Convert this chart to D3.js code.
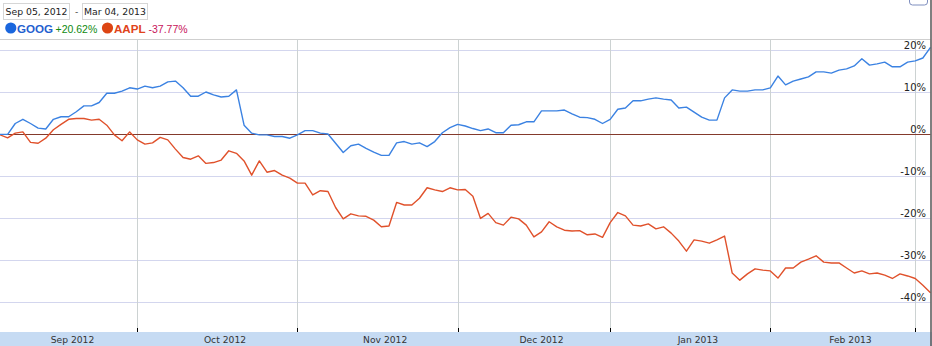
<!DOCTYPE html>
<html>
<head>
<meta charset="utf-8">
<script src="https://cdn.jsdelivr.net/npm/d3@7/dist/d3.min.js"></script>
<style>
  html, body { margin: 0; padding: 0; background: #fff; }
  svg { display: block; }
</style>
</head>
<body>
<svg id="chart" width="932" height="346"></svg>
<script>
// ---- data ----
const startDate = "Sep 05, 2012";
const endDate = "Mar 04, 2013";
const seriesNames = ["GOOG", "AAPL"];
const seriesChange = ["+20.62%", "-37.77%"];

// percent change, one value per trading day
const goog = [
  -0.1, -0.1, 2.5, 3.5, 2.5, 1.4, 1.2, 3.5, 4.1, 4.1,
  5.3, 6.7, 6.7, 7.5, 9.7, 9.7, 10.2, 11.0, 10.7, 11.4,
  11.0, 11.4, 12.4, 12.6, 11.0, 9.0, 9.0, 10.0, 9.3, 8.8,
  9.0, 10.5, 2.1, 0.2, -0.2, -0.2, -0.6, -0.6, -1.0, -0.2,
  0.8, 0.8, 0.2, 0.0, -2.2, -4.4, -2.8, -2.4, -3.4, -4.3,
  -5.1, -5.1, -2.1, -1.8, -2.4, -2.1, -3.0, -1.8, 0.3, 1.5,
  2.3, 1.9, 1.3, 0.8, 1.2, 0.3, 0.3, 2.1, 2.2, 2.9,
  2.9, 5.5, 5.5, 5.5, 5.7, 4.8, 4.0, 3.9, 3.5, 2.5,
  3.5, 5.9, 6.2, 7.9, 7.9, 8.3, 8.6, 8.3, 8.1, 6.2,
  6.4, 5.2, 4.0, 3.3, 3.3, 8.6, 10.5, 10.2, 10.2, 10.5,
  10.5, 11.0, 13.8, 11.7, 12.6, 13.1, 13.6, 14.8, 14.8, 14.5,
  15.2, 15.5, 16.2, 17.9, 16.4, 16.7, 17.1, 16.0, 16.0, 17.1,
  17.4, 18.1, 20.62
];
const aapl = [
  -0.2, -0.9, 0.2, 0.5, -2.0, -2.2, -1.0, 1.0, 2.3, 3.5,
  3.7, 3.7, 3.3, 3.5, 2.1, -0.2, -1.6, 0.5, -1.4, -2.4,
  -2.1, -0.8, -1.4, -3.6, -5.6, -6.0, -5.2, -7.0, -6.8, -6.2,
  -4.0, -4.6, -6.4, -9.8, -6.4, -9.1, -8.7, -9.8, -10.5, -11.7,
  -11.7, -14.5, -13.5, -13.7, -17.5, -20.2, -19.0, -19.5, -19.6, -20.5,
  -22.1, -21.9, -16.3, -16.9, -16.9, -15.3, -12.8, -13.3, -13.7, -12.8,
  -13.3, -13.2, -14.8, -20.1, -18.9, -21.1, -21.7, -19.8, -20.2, -21.7,
  -24.5, -23.3, -20.9, -22.1, -22.9, -23.1, -23.0, -24.0, -23.8, -24.6,
  -21.1, -18.7, -19.5, -21.7, -21.9, -21.4, -22.6, -22.1, -23.6, -25.5,
  -27.9, -25.2, -25.5, -26.0, -25.2, -24.3, -33.1, -34.8, -33.3, -32.1,
  -32.4, -32.6, -34.3, -31.9, -31.9, -30.5, -29.8, -29.0, -30.5, -30.7,
  -30.7, -31.9, -33.1, -32.6, -33.3, -33.1, -33.6, -34.4, -33.3, -33.8,
  -34.4, -36.0, -37.77
];

// month axis: labels and trading-day index where each month starts
const monthLabels = ["Sep 2012", "Oct 2012", "Nov 2012", "Dec 2012", "Jan 2013", "Feb 2013"];
const monthStartIdx = [-1, 18, 39, 60, 80, 101, 120];

// y ticks (percent)
const yTicks = [20, 10, 0, -10, -20, -30, -40];

// ---- drawing ----
const svg = d3.select("#chart");
const W = 932, H = 346;
const plotTop = 39, plotBottom = 332, plotRight = 930.5;

const x = d3.scaleLinear().domain([0, goog.length - 1]).range([0, plotRight]);
const y = d3.scaleLinear().domain([-40, 20]).range([302, 50]);

// top separator line
svg.append("line").attr("x1", 0).attr("x2", plotRight).attr("y1", plotTop + 0.5).attr("y2", plotTop + 0.5)
  .attr("stroke", "#cfcfcf").attr("stroke-width", 1);

// horizontal gridlines
svg.append("g").selectAll("line").data(yTicks.filter(d => d !== 0)).join("line")
  .attr("x1", 0).attr("x2", plotRight)
  .attr("y1", d => Math.round(y(d)) + 0.5).attr("y2", d => Math.round(y(d)) + 0.5)
  .attr("stroke", "#d3d6ee").attr("stroke-width", 1);

// vertical gridlines at month starts
const gridIdx = monthStartIdx.slice(1);
svg.append("g").selectAll("line").data(gridIdx).join("line")
  .attr("x1", d => Math.round(x(d)) + 0.5).attr("x2", d => Math.round(x(d)) + 0.5)
  .attr("y1", plotTop).attr("y2", plotBottom - 4)
  .attr("stroke", "#ccd2d2").attr("stroke-width", 1);

// tick marks
svg.append("g").selectAll("line").data(gridIdx).join("line")
  .attr("x1", d => Math.round(x(d)) + 0.5).attr("x2", d => Math.round(x(d)) + 0.5)
  .attr("y1", plotBottom - 4).attr("y2", plotBottom)
  .attr("stroke", "#000").attr("stroke-width", 1);

// bottom band
svg.append("rect").attr("x", 0).attr("y", plotBottom).attr("width", W).attr("height", H - plotBottom)
  .attr("fill", "#c6dbf3");

// month labels
const step = x(1) - x(0);
svg.append("g").selectAll("text").data(monthLabels).join("text")
  .attr("x", (d, i) => x((monthStartIdx[i] + monthStartIdx[i + 1]) / 2) + step)
  .attr("y", 343)
  .attr("text-anchor", "middle")
  .attr("font-family", "DejaVu Sans, Verdana, sans-serif")
  .attr("font-size", 9.2)
  .attr("fill", "#333")
  .text(d => d);

// zero line
svg.append("line").attr("x1", 0).attr("x2", plotRight)
  .attr("y1", Math.round(y(0)) + 0.5).attr("y2", Math.round(y(0)) + 0.5)
  .attr("stroke", "#843a2c").attr("stroke-width", 1.2);

// y labels
svg.append("g").selectAll("text").data(yTicks).join("text")
  .attr("x", 926).attr("y", d => Math.round(y(d)) - 1.5)
  .attr("text-anchor", "end")
  .attr("font-family", "DejaVu Sans, Verdana, sans-serif")
  .attr("font-size", 10)
  .attr("fill", "#222")
  .text(d => d + "%");

// lines
const line = d3.line().x((d, i) => x(i)).y(d => y(d));
svg.append("path").datum(aapl).attr("d", line)
  .attr("fill", "none").attr("stroke", "#e0512b").attr("stroke-width", 1.4).attr("stroke-linejoin", "round");
svg.append("path").datum(goog).attr("d", line)
  .attr("fill", "none").attr("stroke", "#3b82e2").attr("stroke-width", 1.4).attr("stroke-linejoin", "round");

// right border
svg.append("line").attr("x1", 931).attr("x2", 931).attr("y1", 0).attr("y2", H)
  .attr("stroke", "#555").attr("stroke-width", 1.5);

// partial button at top right
svg.append("rect").attr("x", 909.5).attr("y", -6).attr("width", 18).attr("height", 11).attr("rx", 3)
  .attr("fill", "#fff").attr("stroke", "#7f8fbf").attr("stroke-width", 1);

// header: date boxes
const dateBoxes = [
  { x: 3.5, w: 66, t: startDate },
  { x: 82.5, w: 65, t: endDate }
];
svg.append("g").selectAll("rect").data(dateBoxes).join("rect")
  .attr("x", d => d.x).attr("y", 3.5).attr("width", d => d.w).attr("height", 16)
  .attr("fill", "#fff").attr("stroke", "#d6d6d6");
svg.append("g").selectAll("text").data(dateBoxes).join("text")
  .attr("x", d => d.x + d.w / 2).attr("y", 15)
  .attr("text-anchor", "middle")
  .attr("font-family", "DejaVu Sans, Verdana, sans-serif")
  .attr("font-size", 9.3).attr("fill", "#222")
  .text(d => d.t);
svg.append("text").attr("x", 76.5).attr("y", 15).attr("text-anchor", "middle")
  .attr("font-family", "DejaVu Sans, sans-serif").attr("font-size", 9).attr("fill", "#444").text("-");

// legend
const legend = [
  { cx: 10.8, tx: 17, cx2: 55.5, dot: "#1a66dd", nameColor: "#1f5fcf", chgColor: "#108a10" },
  { cx: 107.5, tx: 114, cx2: 148.5, dot: "#dd4513", nameColor: "#e0431b", chgColor: "#c8145a" }
];
legend.forEach((l, i) => {
  svg.append("circle").attr("cx", l.cx).attr("cy", 28).attr("r", 5.6).attr("fill", l.dot);
  svg.append("text").attr("x", l.tx).attr("y", 32.5)
    .attr("font-family", "Liberation Sans, Arial, sans-serif").attr("font-weight", "bold")
    .attr("font-size", 11.6).attr("fill", l.nameColor).text(seriesNames[i]);
  svg.append("text").attr("x", l.cx2).attr("y", 32.5)
    .attr("font-family", "Liberation Sans, Arial, sans-serif")
    .attr("font-size", 10.5).attr("fill", l.chgColor).text(seriesChange[i]);
});
</script>
</body>
</html>
